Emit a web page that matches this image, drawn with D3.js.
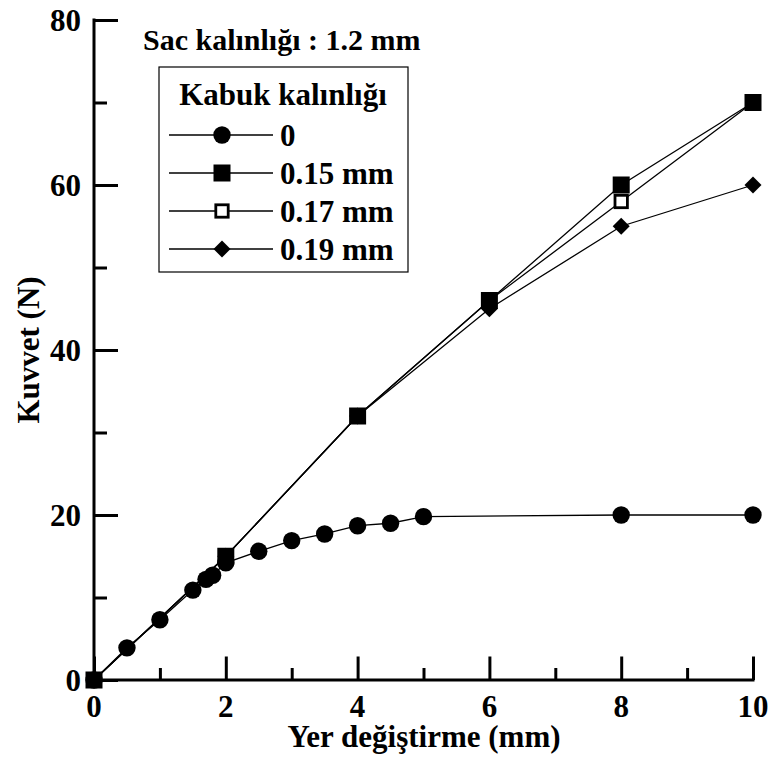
<!DOCTYPE html>
<html>
<head>
<meta charset="utf-8">
<script src="https://cdn.jsdelivr.net/npm/d3@7"></script>
<style>
    html, body { margin: 0; padding: 0; background: #fff; }
</style>
</head>
<body>
<svg id="chart" width="773" height="765"></svg>
<script>
// Kuvvet - yer değiştirme verileri
var xTicks = [0, 2, 4, 6, 8, 10];
var yTicks = [0, 20, 40, 60, 80];

var xCircle = [0, 0.5, 1, 1.5, 1.7, 1.8, 2, 2.5, 3, 3.5, 4, 4.5, 5, 8, 10];
var yCircle = [0, 3.9, 7.3, 10.9, 12.2, 12.7, 14.2, 15.6, 16.9, 17.7, 18.7, 19.0, 19.8, 20, 20];

var xShell = [0, 2, 4, 6, 8, 10];
var y015 = [0, 15, 32, 46, 60, 70];
var y017 = [0, 15, 32, 46, 58, 70];
var y019 = [0, 15, 32, 45, 55, 60];

var legendLabels = ['0', '0.15 mm', '0.17 mm', '0.19 mm'];

(function () {
    var FONT = '"Liberation Serif", "Times New Roman", Tinos, "DejaVu Serif", serif';
    var svg = d3.select('#chart')
        .attr('font-family', FONT)
        .attr('font-weight', 700);

    var x = d3.scaleLinear().domain([0, 10]).range([94, 753]);
    var y = d3.scaleLinear().domain([0, 80]).range([680, 20]);

    var series = [
        { key: 'circle', xs: xCircle, ys: yCircle },
        { key: 'open', xs: xShell, ys: y017 },
        { key: 'diamond', xs: xShell, ys: y019 },
        { key: 'square', xs: xShell, ys: y015 }
    ];

    function marker(g, key) {
        if (key === 'circle') {
            g.append('circle').attr('r', 8.7).attr('fill', '#000');
        } else if (key === 'square') {
            g.append('rect').attr('x', -8.5).attr('y', -8.5).attr('width', 17).attr('height', 17).attr('fill', '#000');
        } else if (key === 'open') {
            g.append('rect').attr('x', -6.2).attr('y', -6.2).attr('width', 12.4).attr('height', 12.4)
                .attr('fill', '#fff').attr('stroke', '#000').attr('stroke-width', 2.8);
        } else {
            // 45° döndürülmüş kare
            g.append('rect').attr('x', -6).attr('y', -6).attr('width', 12).attr('height', 12)
                .attr('transform', 'rotate(45)').attr('fill', '#000');
        }
    }

    function label(parent, txt, size) {
        return parent.append('text')
            .attr('font-family', FONT).attr('font-weight', 700)
            .attr('font-size', size).attr('fill', '#000')
            .text(txt);
    }

    // eksenler (sadece sol ve alt, içe dönük tikler)
    var xAxis = d3.axisTop(x).tickValues(d3.range(0, 11, 1)).tickSize(0).tickFormat('');
    var yAxis = d3.axisRight(y).tickValues(d3.range(0, 81, 10)).tickSize(0).tickFormat('');

    var gx = svg.append('g').attr('transform', 'translate(0,' + y(0) + ')').call(xAxis);
    gx.select('.domain').remove();
    gx.selectAll('.tick line')
        .attr('y2', function (d) { return d % 2 === 0 ? -23.5 : -12; })
        .attr('stroke', '#000').attr('stroke-width', 3);

    var gy = svg.append('g').attr('transform', 'translate(' + x(0) + ',0)').call(yAxis);
    gy.select('.domain').remove();
    gy.selectAll('.tick line')
        .attr('x2', function (d) { return d % 20 === 0 ? 24 : 13; })
        .attr('stroke', '#000').attr('stroke-width', 3);

    svg.append('line')
        .attr('x1', x(0)).attr('x2', x(10) + 1.5).attr('y1', y(0)).attr('y2', y(0))
        .attr('stroke', '#000').attr('stroke-width', 3);
    svg.append('line')
        .attr('x1', x(0)).attr('x2', x(0)).attr('y1', y(80) - 1.5).attr('y2', y(0) + 1.5)
        .attr('stroke', '#000').attr('stroke-width', 3);

    // tik etiketleri
    xTicks.forEach(function (d) {
        label(svg, d, 31).attr('x', x(d)).attr('y', 717).attr('text-anchor', 'middle');
    });
    yTicks.forEach(function (d) {
        label(svg, d, 31).attr('x', 81).attr('y', y(d) + 10.5).attr('text-anchor', 'end');
    });

    label(svg, 'Yer değiştirme (mm)', 31).attr('x', 424).attr('y', 747).attr('text-anchor', 'middle');
    label(svg, 'Kuvvet (N)', 31).attr('transform', 'translate(39,350) rotate(-90)').attr('text-anchor', 'middle');

    // seriler
    var line = d3.line()
        .x(function (d) { return x(d[0]); })
        .y(function (d) { return y(d[1]); });

    series.forEach(function (s) {
        var pts = s.xs.map(function (v, i) { return [v, s.ys[i]]; });
        svg.append('path').datum(pts)
            .attr('d', line).attr('fill', 'none')
            .attr('stroke', '#000').attr('stroke-width', 1.3);
        svg.append('g').selectAll('g').data(pts).join('g')
            .attr('transform', function (d) { return 'translate(' + x(d[0]) + ',' + y(d[1]) + ')'; })
            .each(function () { marker(d3.select(this), s.key); });
    });

    // başlık ve lejant
    label(svg, 'Sac kalınlığı : 1.2 mm', 30).attr('x', 143).attr('y', 50);

    var leg = svg.append('g');
    leg.append('rect').attr('x', 159).attr('y', 67).attr('width', 249).attr('height', 205)
        .attr('fill', '#fff').attr('stroke', '#000').attr('stroke-width', 1.2);
    label(leg, 'Kabuk kalınlığı', 31).attr('x', 283).attr('y', 105).attr('text-anchor', 'middle');

    var legendKeys = ['circle', 'square', 'open', 'diamond'];
    var rowY = d3.scalePoint().domain(legendLabels).range([135, 249]);
    legendLabels.forEach(function (lab, i) {
        var cy = rowY(lab);
        leg.append('line').attr('x1', 169).attr('x2', 273).attr('y1', cy).attr('y2', cy)
            .attr('stroke', '#000').attr('stroke-width', 1.3);
        var mg = leg.append('g').attr('transform', 'translate(222,' + cy + ')');
        marker(mg, legendKeys[i]);
        label(leg, lab, 31).attr('x', 280).attr('y', cy + 10.5);
    });
})();
</script>
</body>
</html>
